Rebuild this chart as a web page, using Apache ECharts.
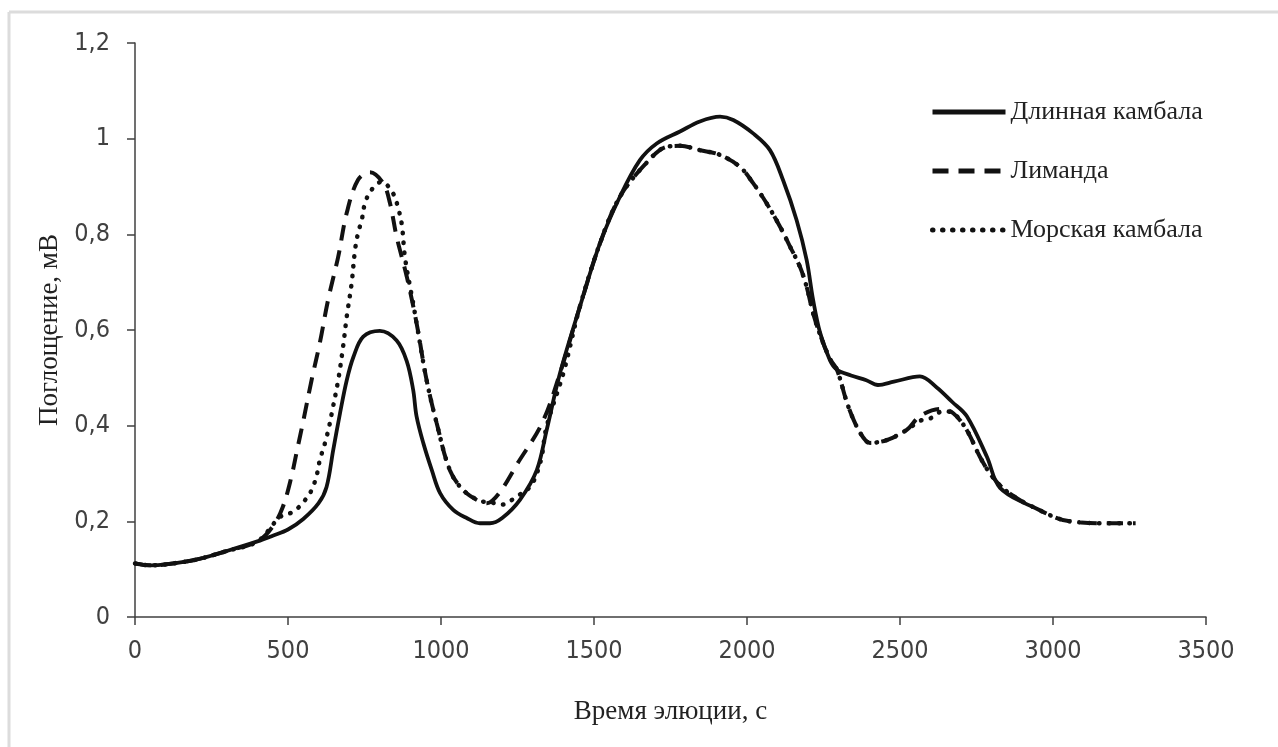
<!DOCTYPE html>
<html>
<head>
<meta charset="utf-8">
<script src="https://cdn.jsdelivr.net/npm/echarts@6/dist/echarts.min.js"></script>
<style>
  html, body { margin: 0; padding: 0; background: #fff; }
  #chart { width: 1278px; height: 747px; }
</style>
</head>
<body>
<div id="chart"></div>
<script>
// Время элюции, с / Поглощение, мВ
const seriesNames = ['Длинная камбала', 'Лиманда', 'Морская камбала']

// Длинная камбала (сплошная)
const timeLong = [0, 50, 100, 200, 300, 400, 450, 500, 550, 600, 626, 648, 670, 692, 714, 746, 800, 855, 888, 909, 920, 942, 970, 997, 1040, 1084, 1127, 1160, 1200, 1258, 1313, 1345, 1389, 1454, 1520, 1585, 1650, 1705, 1781, 1846, 1912, 1955, 2020, 2075, 2118, 2162, 2195, 2216, 2239, 2271, 2294, 2340, 2390, 2428, 2480, 2565, 2620, 2670, 2718, 2784, 2827, 2935]
const valLong = [0.112, 0.108, 0.110, 0.120, 0.138, 0.158, 0.170, 0.183, 0.205, 0.238, 0.272, 0.35, 0.426, 0.495, 0.544, 0.586, 0.598, 0.578, 0.535, 0.475, 0.42, 0.364, 0.307, 0.259, 0.224, 0.207, 0.196, 0.196, 0.207, 0.245, 0.307, 0.39, 0.51, 0.649, 0.782, 0.879, 0.955, 0.99, 1.015, 1.036, 1.046, 1.039, 1.011, 0.976, 0.913, 0.83, 0.746, 0.663, 0.594, 0.537, 0.517, 0.505, 0.495, 0.485, 0.492, 0.503, 0.48, 0.45, 0.42, 0.335, 0.27, 0.23]

// Лиманда (штриховая)
const timeLimanda = [0, 50, 100, 200, 300, 400, 451, 483, 510, 530, 550, 577, 604, 631, 664, 692, 729, 768, 811, 833, 855, 888, 920, 953, 986, 1029, 1073, 1127, 1150, 1190, 1250, 1330, 1389, 1454, 1520, 1585, 1671, 1737, 1781, 1846, 1912, 1977, 2020, 2064, 2108, 2141, 2173, 2195, 2216, 2239, 2271, 2294, 2331, 2370, 2402, 2457, 2522, 2565, 2631, 2674, 2718, 2761, 2800, 2850, 2935, 3055, 3196, 3270]
const valLimanda = [0.112, 0.108, 0.110, 0.120, 0.138, 0.158, 0.19, 0.23, 0.29, 0.35, 0.41, 0.495, 0.573, 0.663, 0.753, 0.845, 0.914, 0.93, 0.907, 0.866, 0.795, 0.712, 0.615, 0.495, 0.405, 0.307, 0.265, 0.241, 0.238, 0.259, 0.321, 0.405, 0.51, 0.649, 0.782, 0.879, 0.949, 0.983, 0.985, 0.976, 0.966, 0.941, 0.907, 0.865, 0.816, 0.774, 0.732, 0.69, 0.635, 0.59, 0.54, 0.517, 0.44, 0.385, 0.364, 0.37, 0.391, 0.42, 0.435, 0.426, 0.391, 0.335, 0.295, 0.262, 0.23, 0.20, 0.196, 0.196]

// Морская камбала (пунктир)
const timeMorskaya = [0, 50, 100, 200, 300, 400, 474, 517, 550, 577, 594, 604, 621, 634, 643, 664, 680, 692, 708, 719, 729, 741, 752, 773, 806, 843, 860, 872, 882, 899, 909, 920, 953, 986, 1029, 1073, 1127, 1160, 1200, 1247, 1291, 1313, 1329, 1345, 1400, 1454, 1520, 1585, 1671, 1737, 1781, 1846, 1912, 1977, 2020, 2064, 2108, 2141, 2173, 2195, 2216, 2239, 2271, 2294, 2331, 2370, 2402, 2457, 2522, 2565, 2598, 2640, 2674, 2718, 2761, 2800, 2850, 2935, 3055, 3196, 3270]
const valMorskaya = [0.112, 0.108, 0.110, 0.120, 0.138, 0.158, 0.209, 0.22, 0.24, 0.265, 0.297, 0.328, 0.364, 0.397, 0.426, 0.495, 0.565, 0.628, 0.698, 0.767, 0.803, 0.83, 0.866, 0.893, 0.91, 0.886, 0.855, 0.82, 0.753, 0.69, 0.656, 0.615, 0.495, 0.405, 0.307, 0.265, 0.243, 0.24, 0.235, 0.252, 0.272, 0.30, 0.335, 0.398, 0.51, 0.649, 0.782, 0.879, 0.949, 0.983, 0.985, 0.976, 0.966, 0.941, 0.907, 0.865, 0.816, 0.774, 0.732, 0.69, 0.635, 0.59, 0.54, 0.517, 0.44, 0.385, 0.364, 0.37, 0.391, 0.41, 0.415, 0.43, 0.426, 0.391, 0.335, 0.295, 0.262, 0.23, 0.20, 0.196, 0.196]

const xTicks = [0, 500, 1000, 1500, 2000, 2500, 3000, 3500]
const yTicks = [0, 0.2, 0.4, 0.6, 0.8, 1, 1.2]

const pairs = (xs, ys) => xs.map((x, i) => [x, ys[i]])

const AXIS_COLOR = '#404040'
const NARROW = "'Liberation Sans Narrow', 'DejaVu Sans Condensed', 'Arial Narrow', sans-serif"
const SERIF = "'Liberation Serif', 'DejaVu Serif', serif"

const chart = echarts.init(document.getElementById('chart'))

const option = {
  backgroundColor: '#fff',
  animation: false,
  graphic: [
    // светло-серая рамка сверху и слева
    { type: 'line', shape: { x1: 9, y1: 12, x2: 1278, y2: 12 }, style: { stroke: '#dcdcdc', lineWidth: 3 } },
    { type: 'line', shape: { x1: 9, y1: 12, x2: 9, y2: 747 }, style: { stroke: '#dcdcdc', lineWidth: 3 } },
  ],
  grid: { left: 135, right: 72, top: 43, bottom: 130 },
  legend: {
    orient: 'vertical',
    left: 925,
    top: 94,
    itemWidth: 73,
    itemHeight: 14,
    itemGap: 33,
    itemStyle: { opacity: 0 },
    lineStyle: { width: 5 },
    textStyle: { fontFamily: SERIF, fontSize: 26, color: '#222' },
    data: seriesNames,
  },
  xAxis: {
    type: 'value',
    min: 0,
    max: 3500,
    interval: 500,
    name: 'Время элюции, с',
    nameLocation: 'middle',
    nameGap: 81,
    nameTextStyle: { fontFamily: SERIF, fontSize: 27, color: '#222' },
    axisLine: { show: true, lineStyle: { color: AXIS_COLOR, width: 1.5 } },
    axisTick: { show: true, length: 8, lineStyle: { color: AXIS_COLOR, width: 1.5 } },
    splitLine: { show: false },
    axisLabel: {
      margin: 22,
      fontFamily: NARROW,
      fontSize: 25,
      color: AXIS_COLOR,
      formatter: (v) => (xTicks.includes(v) ? String(v) : ''),
    },
  },
  yAxis: {
    type: 'value',
    min: 0,
    max: 1.2,
    interval: 0.2,
    name: 'Поглощение, мВ',
    nameLocation: 'middle',
    nameGap: 64,
    nameRotate: 90,
    nameTextStyle: { fontFamily: SERIF, fontSize: 27, color: '#222' },
    axisLine: { show: true, lineStyle: { color: AXIS_COLOR, width: 1.5 } },
    axisTick: { show: true, length: 8, lineStyle: { color: AXIS_COLOR, width: 1.5 } },
    splitLine: { show: false },
    axisLabel: {
      margin: 25,
      fontFamily: NARROW,
      fontSize: 25,
      color: AXIS_COLOR,
      formatter: (v) => {
        const t = yTicks.find((k) => Math.abs(k - v) < 1e-6)
        return t === undefined ? '' : String(t).replace('.', ',')
      },
    },
  },
  series: [
    {
      name: seriesNames[0],
      type: 'line',
      data: pairs(timeLong, valLong),
      smooth: 0.35,
      symbol: 'none',
      lineStyle: { color: '#111', width: 3.8 },
      itemStyle: { color: '#111' },
      z: 3,
    },
    {
      name: seriesNames[1],
      type: 'line',
      data: pairs(timeLimanda, valLimanda),
      smooth: 0.35,
      symbol: 'none',
      lineStyle: { color: '#111', width: 4, type: [16, 10] },
      itemStyle: { color: '#111' },
      z: 2,
    },
    {
      name: seriesNames[2],
      type: 'line',
      data: pairs(timeMorskaya, valMorskaya),
      smooth: 0.35,
      symbol: 'none',
      lineStyle: { color: '#111', width: 4.5, type: [0.5, 9.5], cap: 'round' },
      itemStyle: { color: '#111' },
      z: 2,
    },
  ],
}

chart.setOption(option)
</script>
</body>
</html>
